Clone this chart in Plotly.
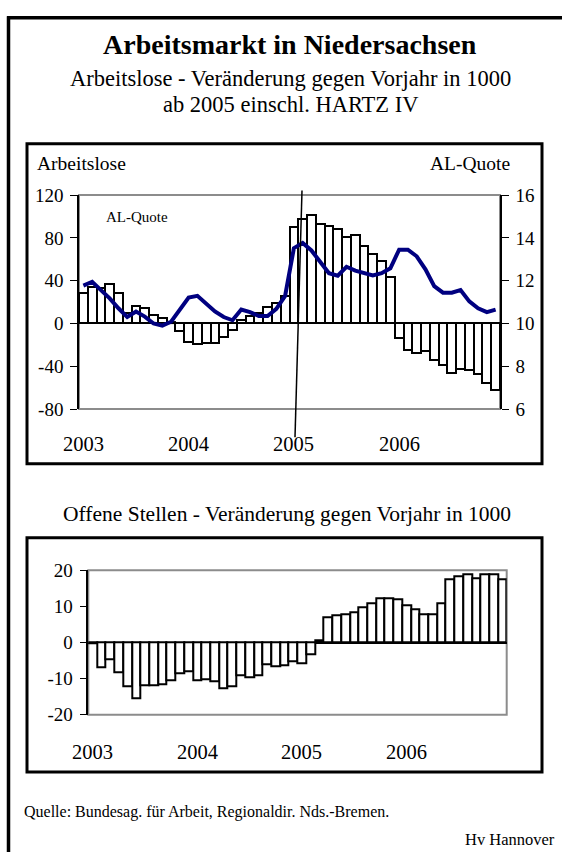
import plotly.graph_objects as go

W, H = 562, 863

months = list(range(48))
year_ticks = [0, 12, 24, 36]
year_labels = ["2003", "2004", "2005", "2006"]

arbeitslose = [28, 34, 33, 37, 28, 10, 16, 14, 7.6, 5, 1, -7.5,
               -17, -19.7, -18, -18, -13, -6, 3, 6.7, 10, 15, 19, 26,
               90, 98, 101, 93, 91, 88, 81, 82.5, 72.5, 64.5, 58, 43,
               -13.6, -24.5, -28, -25.7, -34, -38.5, -46, -42.5, -43.5, -47, -56, -62]

al_quote = [11.77, 11.95, 11.56, 11.17, 10.71, 10.3, 10.56, 10.32, 10.0, 9.9, 10.08, 10.61,
            11.21, 11.29, 10.91, 10.56, 10.3, 10.15, 10.65, 10.53, 10.35, 10.35, 10.68, 11.29,
            13.52, 13.76, 13.41, 12.84, 12.35, 12.23, 12.65, 12.47, 12.35, 12.25, 12.35, 12.58,
            13.45, 13.45, 13.14, 12.53, 11.74, 11.44, 11.44, 11.56, 11.03, 10.71, 10.53, 10.65]

offene_stellen = [-0.2, -7.0, -4.6, -8.3, -12.0, -15.5, -11.9, -11.9, -11.5, -10.5, -8.4, -8.1,
                  -10.4, -10.1, -10.7, -12.6, -12.2, -9.0, -9.6, -9.0, -6.1, -6.6, -6.2, -5.1,
                  -5.7, -3.2, 0.6, 7.1, 7.4, 7.8, 8.4, 9.7, 10.9, 12.2, 12.2, 11.9,
                  10.4, 9.2, 7.8, 7.8, 10.8, 17.4, 18.4, 19.0, 17.7, 19.0, 18.8, 17.4]

left_ticks = [-80, -40, 0, 40, 80, 120]
left_labels = ["-80", "-40", "0", "40", "80", "120"]
right_ticks = [6, 8, 10, 12, 14, 16]
bottom_ticks = [-20, -10, 0, 10, 20]
bottom_labels = ["-20", "-10", "0", "10", "20"]

FONT = "Liberation Serif"


def px(x):
    return x / W


def py(y):
    return 1 - y / H


fig = go.Figure()

fig.add_trace(go.Bar(x=months, y=arbeitslose, xaxis="x", yaxis="y",
                     marker=dict(color="white", line=dict(color="black", width=2))))
fig.add_trace(go.Scatter(x=months, y=al_quote, xaxis="x", yaxis="y2", mode="lines",
                         line=dict(color="#000080", width=4)))
fig.add_trace(go.Bar(x=months, y=offene_stellen, xaxis="x2", yaxis="y5",
                     marker=dict(color="white", line=dict(color="black", width=2))))

top_dom = [py(409), py(189.7)]
bot_dom = [py(722.3), py(574.3)]

common_y = dict(showgrid=False, tickfont=dict(family=FONT, size=19, color="black"),
                tickcolor="black", ticklen=7, tickwidth=1, showline=True,
                linecolor="black", linewidth=1.5, fixedrange=True, ticklabelstandoff=3)

fig.update_layout(
    width=W, height=H, margin=dict(l=0, r=0, t=0, b=0),
    paper_bgcolor="white", plot_bgcolor="rgba(0,0,0,0)",
    showlegend=False, bargap=0,
    font=dict(family=FONT, color="black"),
    xaxis=dict(domain=[px(79), px(500)], range=[-0.5, 47.5], showticklabels=False,
               showgrid=False, zeroline=False, showline=False, ticks="", anchor="y", fixedrange=True),
    yaxis=dict(domain=top_dom, range=[-80, 120], tickvals=left_ticks, ticktext=left_labels,
               ticks="outside", zeroline=True, zerolinecolor="black", zerolinewidth=2,
               anchor="x", **common_y),
    yaxis2=dict(range=[6, 16], tickvals=right_ticks, ticks="outside", side="right",
                overlaying="y", anchor="x", zeroline=False, **common_y),
    yaxis3=dict(range=[-80, 120], tickvals=left_ticks, ticks="inside", side="left",
                overlaying="y", anchor="x", showticklabels=False, zeroline=False,
                showgrid=False, showline=False, tickcolor="black", ticklen=7, fixedrange=True),
    yaxis4=dict(range=[6, 16], tickvals=right_ticks, ticks="inside", side="right",
                overlaying="y", anchor="x", showticklabels=False, zeroline=False,
                showgrid=False, showline=False, tickcolor="black", ticklen=7, fixedrange=True),
    xaxis2=dict(domain=[px(88.3), px(506.7)], range=[-0.5, 47.5], showticklabels=False,
                showgrid=False, zeroline=False, showline=False, ticks="", anchor="y5", fixedrange=True),
    yaxis5=dict(domain=bot_dom, range=[-20, 20], tickvals=bottom_ticks, ticktext=bottom_labels,
                ticks="outside", zeroline=True, zerolinecolor="black", zerolinewidth=2,
                anchor="x2", **common_y),
    yaxis6=dict(range=[-20, 20], tickvals=bottom_ticks, ticks="inside", side="left",
                overlaying="y5", anchor="x2", showticklabels=False, zeroline=False,
                showgrid=False, showline=False, tickcolor="black", ticklen=7, fixedrange=True),
)

shapes = []
shapes.append(dict(type="rect", xref="x domain", yref="y domain", x0=0, x1=1, y0=0, y1=1,
                   line=dict(color="#8c8c8c", width=2), layer="below"))
shapes.append(dict(type="rect", xref="x2 domain", yref="y5 domain", x0=0, x1=1, y0=0, y1=1,
                   line=dict(color="#8c8c8c", width=2), layer="below"))
for (x0, y0, x1, y1) in [(27, 137, 542, 465), (27, 541, 542, 781)]:
    shapes.append(dict(type="rect", xref="paper", yref="paper", x0=px(x0), x1=px(x1),
                       y0=py(y1), y1=py(y0), line=dict(color="black", width=3)))
shapes.append(dict(type="line", xref="paper", yref="paper", x0=px(8.5), x1=px(8.5),
                   y0=0, y1=py(6.5), line=dict(color="black", width=3.5)))
shapes.append(dict(type="line", xref="paper", yref="paper", x0=px(7), x1=1,
                   y0=py(8), y1=py(8), line=dict(color="black", width=3.5)))
shapes.append(dict(type="line", xref="paper", yref="paper", x0=px(302), x1=px(295),
                   y0=py(185), y1=py(438), line=dict(color="black", width=1.5)))
fig.update_layout(shapes=shapes)

ann = []


def text(x, y, s, size, anchor="center", bold=False):
    ann.append(dict(x=px(x), y=py(y), xref="paper", yref="paper", text=f"<b>{s}</b>" if bold else s,
                    showarrow=False, xanchor=anchor, yanchor="middle",
                    font=dict(family=FONT, size=size, color="black")))


text(290, 35, "Arbeitsmarkt in Niedersachsen", 28, bold=True)
text(290, 70, "Arbeitslose - Veränderung gegen Vorjahr in 1000", 22.5)
text(290, 97, "ab 2005 einschl. HARTZ IV", 22.5)
text(35, 157, "Arbeitslose", 19.5, anchor="left")
text(512, 157, "AL-Quote", 19.5, anchor="right")
text(104, 212, "AL-Quote", 15, anchor="left")
text(287, 517, "Offene Stellen - Veränderung gegen Vorjahr in 1000", 21.5)
text(22, 822, "Quelle: Bundesag. für Arbeit, Regionaldir. Nds.-Bremen.", 16, anchor="left")
text(557, 850, "Hv Hannover", 16.5, anchor="right")

for xi, lab in zip(year_ticks, year_labels):
    ann.append(dict(x=xi, y=py(445), xref="x", yref="paper", text=lab, showarrow=False,
                    xanchor="center", yanchor="middle", font=dict(family=FONT, size=20.5, color="black")))
    ann.append(dict(x=xi, y=py(760), xref="x2", yref="paper", text=lab, showarrow=False,
                    xanchor="center", yanchor="middle", font=dict(family=FONT, size=20.5, color="black")))

fig.update_layout(annotations=ann)

fig.write_html("out.html", config={"displayModeBar": False},
               post_script="document.body.style.margin='0';document.body.style.overflow='hidden';")
